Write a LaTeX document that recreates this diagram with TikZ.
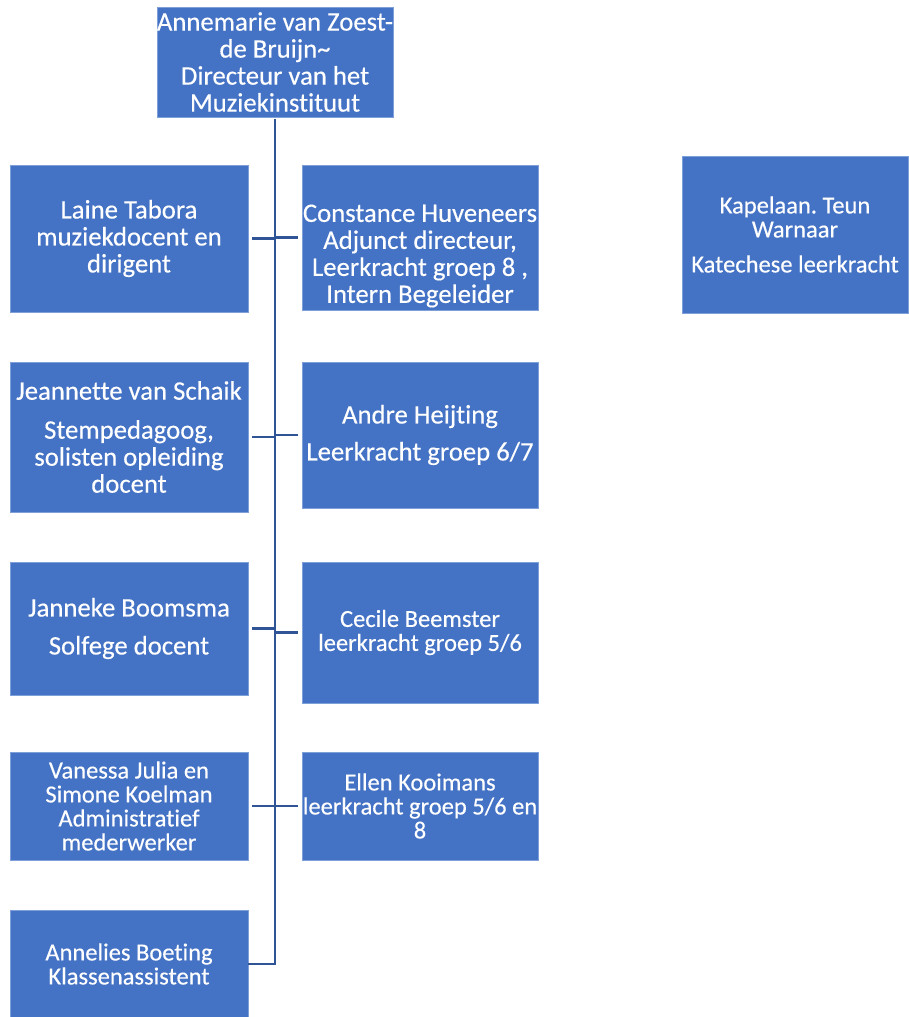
\documentclass[tikz,border=0pt]{standalone}
\usepackage{fontspec}
\setmainfont{Carlito}[Ligatures=NoCommon, FakeBold=0.35]
\definecolor{boxblue}{HTML}{4472C4}
\definecolor{boxedge}{HTML}{7F9FD9}
\definecolor{linkblue}{HTML}{2F5597}
\frenchspacing
\begin{document}
\begin{tikzpicture}[x=1pt,y=-1pt,
  box/.style={fill=boxblue, draw=boxedge, line width=0.8pt, inner sep=0pt},
  big/.style={text=white, align=center, font=\fontsize{26.7}{27}\selectfont, inner sep=0pt},
  small/.style={text=white, align=center, font=\fontsize{24.5}{24}\selectfont, inner sep=0pt},
  link/.style={draw=linkblue, line width=2.2pt},
  trunkline/.style={draw=linkblue, line width=2.8pt, line join=miter}]
\useasboundingbox (0,0) rectangle (908,1017);

% boxes
\node[box, minimum width=236pt, minimum height=110pt] (top) at (275,62) {};
\node[box, minimum width=238pt, minimum height=147pt] (laine) at (129,238.5) {};
\node[box, minimum width=236pt, minimum height=145pt] (constance) at (420,237.5) {};
\node[box, minimum width=226pt, minimum height=157pt] (kapelaan) at (795,234.5) {};
\node[box, minimum width=238pt, minimum height=150pt] (jeannette) at (129,437) {};
\node[box, minimum width=236pt, minimum height=146pt] (andre) at (420,435) {};
\node[box, minimum width=238pt, minimum height=133pt] (janneke) at (129,628.5) {};
\node[box, minimum width=236pt, minimum height=141pt] (cecile) at (420,632.5) {};
\node[box, minimum width=238pt, minimum height=108pt] (vanessa) at (129,806) {};
\node[box, minimum width=236pt, minimum height=108pt] (ellen) at (420,806) {};
\node[box, minimum width=238pt, minimum height=108pt] (annelies) at (129,964) {};

% texts
\node[big] (topT) at (top.center) {Annemarie van Zoest-\\de Bruijn\textasciitilde\\Directeur van het\\Muziekinstituut};
\node[big] (laineT) at (laine.center) {Laine Tabora\\muziekdocent en\\dirigent};
\node[big] (constanceT) at (420,256) {Constance Huveneers\\Adjunct directeur,\\Leerkracht groep 8 ,\\Intern Begeleider};
\node[small] (kapelaanT) at (kapelaan.center) {Kapelaan. Teun\\Warnaar\\[11pt]Katechese leerkracht};
\node[big] (jeannetteT) at (jeannette.center) {Jeannette van Schaik\\[12pt]Stempedagoog,\\solisten opleiding\\docent};
\node[big] (andreT) at (andre.center) {Andre Heijting\\[10pt]Leerkracht groep 6/7};
\node[big] (jannekeT) at (janneke.center) {Janneke Boomsma\\[11pt]Solfege docent};
\node[small] (cecileT) at (cecile.center) {Cecile Beemster\\leerkracht groep 5/6};
\node[small] (vanessaT) at (vanessa.center) {Vanessa Julia en\\Simone Koelman\\Administratief\\mederwerker};
\node[small] (ellenT) at (ellen.center) {Ellen Kooimans\\leerkracht groep 5/6 en\\8};
\node[small] (anneliesT) at (annelies.center) {Annelies Boeting\\Klassenassistent};

% trunk
\draw[trunkline, shorten >=2pt] (annelies.east) -| (top.south);

% stubs
\draw[link, shorten <=4pt] (laine.east) -- (laine.east -| top.south);
\draw[link, shorten <=4pt] (jeannette.east) -- (jeannette.east -| top.south);
\draw[link, shorten <=4pt] (janneke.east) -- (janneke.east -| top.south);
\draw[link, shorten <=4pt] (vanessa.east) -- (vanessa.east -| top.south);
\draw[link, shorten <=4pt] (constance.west) -- (constance.west -| top.south);
\draw[link, shorten <=4pt] (andre.west) -- (andre.west -| top.south);
\draw[link, shorten <=4pt] (cecile.west) -- (cecile.west -| top.south);
\draw[link, shorten <=4pt] (ellen.west) -- (ellen.west -| top.south);
\end{tikzpicture}
\end{document}
